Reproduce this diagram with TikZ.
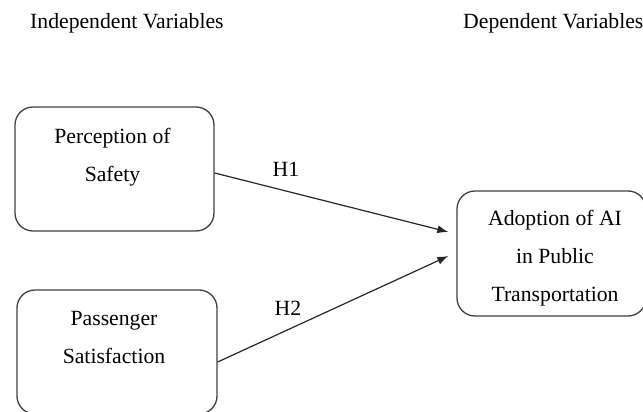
\documentclass[tikz,border=0pt]{standalone}
\usepackage{fontspec}
\setmainfont{Liberation Serif}
\usetikzlibrary{arrows.meta}
\begin{document}
\begin{tikzpicture}[x=1pt,y=-1pt,
  font=\fontsize{21.7}{38}\selectfont,
  box/.style={draw=black!75, line width=1.3pt, rounded corners=18pt, inner sep=0pt},
  txt/.style={inner sep=0pt, anchor=base, text=black},
  arr/.style={draw=black!85, line width=1.2pt, -{Latex[length=11pt,width=8pt]}}]
\useasboundingbox (0,0) rectangle (643,412);
\clip (0,0) rectangle (643,412);
% headers
\node[txt, anchor=base west] (hi) at (30,29) {Independent Variables};
\node[txt, anchor=base west] (hd) at (463,29) {Dependent Variables};
% boxes
\node[box, minimum width=199pt, minimum height=124pt] (b1) at (114.5,169) {};
\node[box, minimum width=200pt, minimum height=124pt] (b2) at (117,352) {};
\node[box, minimum width=189pt, minimum height=125pt] (b3) at (551.5,253.5) {};
% box texts
\node[txt] (t1) at (112.5,143) {\begin{tabular}[t]{@{}c@{}}Perception of\\Safety\end{tabular}};
\node[txt] (t2) at (114,325) {\begin{tabular}[t]{@{}c@{}}Passenger\\Satisfaction\end{tabular}};
\node[txt] (t3) at (555,225) {\begin{tabular}[t]{@{}c@{}}Adoption of AI\\in Public\\Transportation\end{tabular}};
% arrows
\draw[arr] ([yshift=-4pt]b1.east) -- ([xshift=-8pt,yshift=21.5pt]b3.west);
\draw[arr] ([yshift=-10pt]b2.east) -- ([xshift=-8pt,yshift=-2.5pt]b3.west);
% labels
\node[txt] (h1) at (286,176) {H1};
\node[txt] (h2) at (288,315) {H2};
\end{tikzpicture}
\end{document}
